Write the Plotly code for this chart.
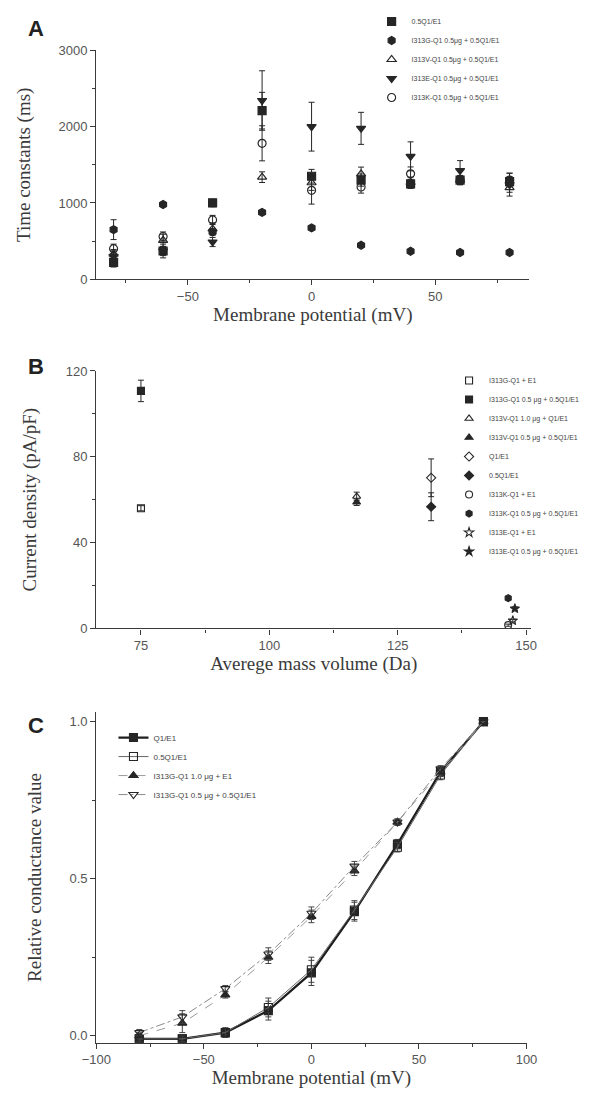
import plotly.graph_objects as go

W, H = 592, 1097

# ---------------- Panel A data ----------------
a_x = [-80, -60, -40, -20, 0, 20, 40, 60, 80]
a_names = ["0.5Q1/E1",
           "I313G-Q1 0.5μg + 0.5Q1/E1",
           "I313V-Q1 0.5μg + 0.5Q1/E1",
           "I313E-Q1 0.5μg + 0.5Q1/E1",
           "I313K-Q1 0.5μg + 0.5Q1/E1"]
a_q1 = [220, 370, 1000, 2210, 1350, 1300, 1250, 1300, 1280]
a_q1_err = [60, 60, 50, 240, 90, 80, 60, 60, 60]
a_g = [650, 980, 620, 876, 673, 445, 367, 350, 350]
a_g_err = [130, 30, 40, 20, 20, 20, 15, 15, 15]
a_v = [330, 510, 660, 1338, 1265, 1380, 1270, 1300, 1200]
a_v_err = [60, 80, 80, 70, 100, 90, 70, 60, 60]
a_e = [300, 370, 488, 2343, 2000, 1978, 1611, 1425, 1240]
a_e_err = [80, 90, 60, 390, 320, 210, 190, 130, 150]
a_k = [400, 560, 777, 1782, 1165, 1209, 1382, 1300, 1300]
a_k_err = [60, 60, 60, 230, 180, 80, 90, 60, 90]

# ---------------- Panel B data ----------------
b_names = ["I313G-Q1 + E1",
           "I313G-Q1 0.5 μg + 0.5Q1/E1",
           "I313V-Q1 1.0 μg + Q1/E1",
           "I313V-Q1 0.5 μg + 0.5Q1/E1",
           "Q1/E1",
           "0.5Q1/E1",
           "I313K-Q1 + E1",
           "I313K-Q1 0.5 μg + 0.5Q1/E1",
           "I313E-Q1 + E1",
           "I313E-Q1 0.5 μg + 0.5Q1/E1"]
b_x = [75, 75, 117, 117, 131.5, 131.5, 146.5, 146.5, 147.4, 147.8]
b_y = [56, 110.7, 61.5, 58.8, 70.2, 56.7, 1.5, 14.1, 3.6, 9.2]
b_err = [1.2, 5, 2, 1.5, 8.8, 6.5, 0.5, 0.8, 0.6, 0.8]

# ---------------- Panel C data ----------------
c_x = [-80, -60, -40, -20, 0, 20, 40, 60, 80]
c_names = ["Q1/E1", "0.5Q1/E1",
           "I313G-Q1 1.0 μg + E1", "I313G-Q1 0.5 μg + 0.5Q1/E1"]
c_q1 = [-0.01, -0.01, 0.01, 0.08, 0.20, 0.395, 0.61, 0.84, 1.0]
c_q1_err = [0.01, 0.01, 0.015, 0.03, 0.04, 0.03, 0.015, 0.015, 0.0]
c_half = [-0.01, -0.01, 0.01, 0.09, 0.21, 0.40, 0.60, 0.83, 1.0]
c_half_err = [0.01, 0.01, 0.015, 0.03, 0.04, 0.03, 0.015, 0.015, 0.0]
c_g1 = [0.0, 0.04, 0.13, 0.25, 0.38, 0.525, 0.68, 0.84, 1.0]
c_g1_err = [0.01, 0.03, 0.01, 0.02, 0.02, 0.015, 0.01, 0.01, 0.0]
c_g05 = [0.01, 0.06, 0.15, 0.26, 0.39, 0.54, 0.68, 0.85, 1.0]
c_g05_err = [0.01, 0.02, 0.01, 0.02, 0.02, 0.015, 0.01, 0.01, 0.0]

DARK = "#262626"


def px_x(p):
    return p / W


def px_y(p):
    return 1 - p / H


fig = go.Figure()


def err(arr, color=DARK):
    return dict(type="data", array=arr, visible=True, thickness=1, width=3, color=color)


# Panel A traces
a_series = [(a_q1, a_q1_err, "square"), (a_g, a_g_err, "hexagon"),
            (a_v, a_v_err, "triangle-up-open"), (a_e, a_e_err, "triangle-down"),
            (a_k, a_k_err, "circle-open")]
for name, (ys, es, sym) in zip(a_names, a_series):
    fig.add_trace(go.Scatter(
        x=a_x, y=ys, mode="markers", name=name, xaxis="x", yaxis="y",
        legend="legend",
        marker=dict(symbol=sym, size=8, color=DARK, line=dict(color=DARK, width=1.2)),
        error_y=err(es)))

# Panel B traces
b_syms = ["square-open", "square", "triangle-up-open", "triangle-up",
          "diamond-open", "diamond", "circle-open", "hexagon", "star-open", "star"]
for i, name in enumerate(b_names):
    fig.add_trace(go.Scatter(
        x=[b_x[i]], y=[b_y[i]], mode="markers", name=name, xaxis="x2", yaxis="y2",
        legend="legend2",
        marker=dict(symbol=b_syms[i], size=7, color=DARK, line=dict(color=DARK, width=1.1)),
        error_y=err([b_err[i]])))

# Panel C traces
c_series = [
    (c_q1, c_q1_err, "square", dict(color="#1e1e1e", width=2.2, dash="solid")),
    (c_half, c_half_err, "square-open", dict(color="#666666", width=1.0, dash="solid")),
    (c_g1, c_g1_err, "triangle-up", dict(color="#9a9a9a", width=1.0, dash="dash")),
    (c_g05, c_g05_err, "triangle-down-open", dict(color="#8a8a8a", width=1.0, dash="dashdot")),
]
for name, (ys, es, sym, ln) in zip(c_names, c_series):
    fig.add_trace(go.Scatter(
        x=c_x, y=ys, mode="lines+markers", name=name, xaxis="x3", yaxis="y3",
        legend="legend3", line=ln,
        marker=dict(symbol=sym, size=8, color=DARK, line=dict(color=DARK, width=1.1)),
        error_y=err(es, "#444444")))

tickfont = dict(family="Liberation Sans, Arial, sans-serif", size=13, color="#555555")
titlefont = dict(family="Liberation Serif, Times New Roman, serif", size=19, color="#3a3a3a")


def axis_common(**kw):
    d = dict(showline=True, linecolor="#3a3a3a", linewidth=1.3, ticks="outside",
             ticklen=5, tickwidth=1.2, tickcolor="#3a3a3a", showgrid=False,
             zeroline=False, tickfont=tickfont)
    d.update(kw)
    return d


layout = dict(
    width=W, height=H, margin=dict(l=0, r=0, t=0, b=0),
    paper_bgcolor="white", plot_bgcolor="white", showlegend=True,
    # Panel A
    xaxis=axis_common(domain=[px_x(85), px_x(538)], range=[-87, 88], dtick=50, tick0=0,
                      anchor="y", minor=dict(ticks="outside", ticklen=3, dtick=25, tick0=0,
                                             tickcolor="#3a3a3a"),
                      title=dict(text="Membrane potential (mV)", font=titlefont, standoff=4)),
    yaxis=axis_common(domain=[px_y(276), px_y(44)], range=[0, 3000], dtick=1000,
                      anchor="x", minor=dict(ticks="outside", ticklen=3, dtick=500,
                                             tickcolor="#3a3a3a"),
                      title=dict(text="Time constants (ms)", font=titlefont, standoff=22)),
    # Panel B
    xaxis2=axis_common(domain=[px_x(85), px_x(540)], range=[66.3, 151], dtick=25, tick0=0,
                       anchor="y2", minor=dict(ticks="outside", ticklen=3, dtick=12.5, tick0=0,
                                               tickcolor="#3a3a3a"),
                       title=dict(text="Averege mass volume (Da)", font=titlefont, standoff=4)),
    yaxis2=axis_common(domain=[px_y(630), px_y(369)], range=[0, 120], dtick=40,
                       anchor="x2", minor=dict(ticks="outside", ticklen=3, dtick=20,
                                               tickcolor="#3a3a3a"),
                       title=dict(text="Current density (pA/pF)", font=titlefont, standoff=24)),
    # Panel C
    xaxis3=axis_common(domain=[px_x(85), px_x(535)], range=[-100, 100], dtick=50, tick0=0,
                       anchor="y3", minor=dict(ticks="outside", ticklen=3, dtick=25, tick0=0,
                                               tickcolor="#3a3a3a"),
                       title=dict(text="Membrane potential (mV)", font=titlefont, standoff=2)),
    yaxis3=axis_common(domain=[px_y(1050), px_y(715)], range=[-0.022, 1.03], dtick=0.5,
                       tick0=0, tickformat=".1f",
                       anchor="x3", minor=dict(ticks="outside", ticklen=3, dtick=0.25, tick0=0,
                                               tickcolor="#3a3a3a"),
                       title=dict(text="Relative conductance value", font=titlefont, standoff=22)),
    legend=dict(x=px_x(373), y=px_y(0), xanchor="left", yanchor="top",
                font=dict(family="Liberation Sans, Arial, sans-serif", size=7, color="#444"),
                bgcolor="rgba(0,0,0,0)"),
    legend2=dict(x=px_x(454), y=px_y(364), xanchor="left", yanchor="top",
                 font=dict(family="Liberation Sans, Arial, sans-serif", size=7, color="#444"),
                 bgcolor="rgba(0,0,0,0)"),
    legend3=dict(x=px_x(103), y=px_y(726), xanchor="left", yanchor="top",
                 font=dict(family="Liberation Sans, Arial, sans-serif", size=8, color="#444"),
                 bgcolor="rgba(0,0,0,0)"),
    annotations=[
        dict(text="<b>A</b>", x=px_x(12), y=px_y(22), xref="paper", yref="paper",
             xanchor="left", yanchor="middle", showarrow=False,
             font=dict(family="Liberation Sans, Arial, sans-serif", size=22, color="#222")),
        dict(text="<b>B</b>", x=px_x(12), y=px_y(364), xref="paper", yref="paper",
             xanchor="left", yanchor="middle", showarrow=False,
             font=dict(family="Liberation Sans, Arial, sans-serif", size=22, color="#222")),
        dict(text="<b>C</b>", x=px_x(12), y=px_y(728), xref="paper", yref="paper",
             xanchor="left", yanchor="middle", showarrow=False,
             font=dict(family="Liberation Sans, Arial, sans-serif", size=22, color="#222")),
    ],
)
fig.update_layout(**layout)
fig.write_html("out.html", config={"displayModeBar": False},
               post_script="document.body.style.margin='0';document.body.style.overflow='hidden';")
